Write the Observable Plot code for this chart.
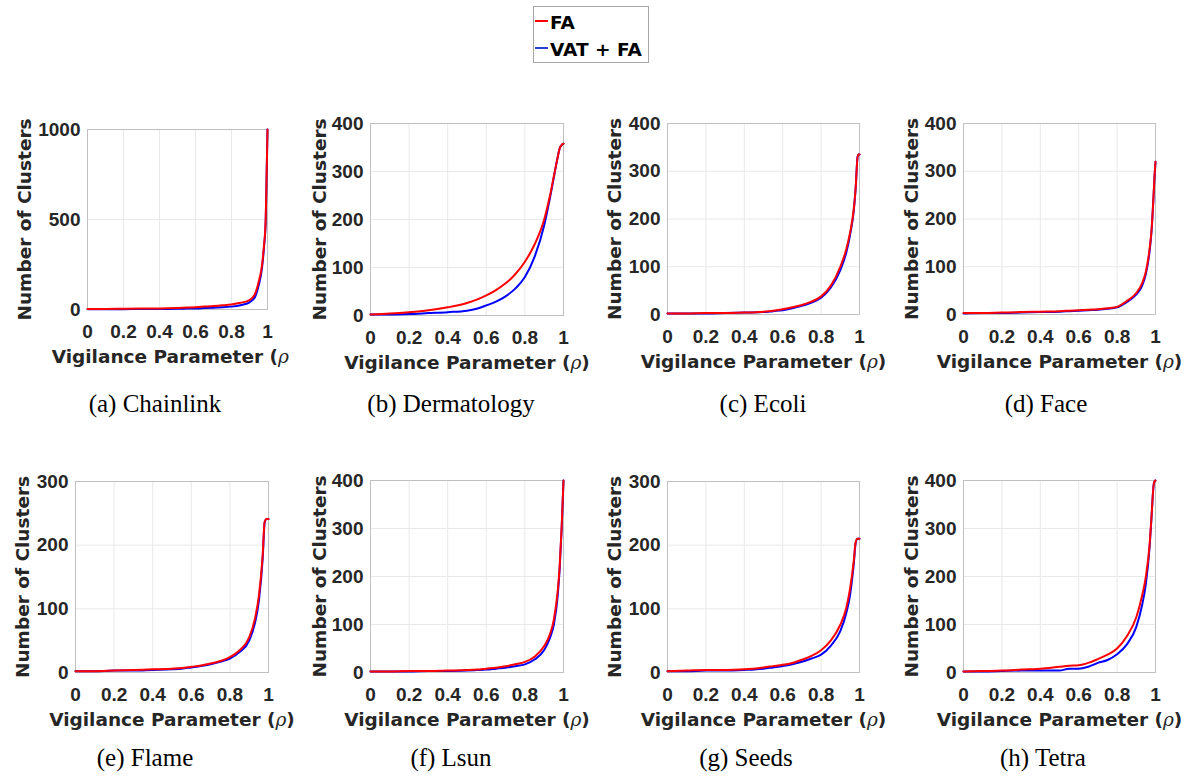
<!DOCTYPE html>
<html>
<head>
<meta charset="utf-8">
<script src="https://cdn.jsdelivr.net/npm/d3@7"></script>
<script src="https://cdn.jsdelivr.net/npm/@observablehq/plot@0.6"></script>
<style>
  html, body { margin: 0; padding: 0; background: #fff; }
  #fig { position: relative; width: 1195px; height: 776px; overflow: hidden; background: #fff; }
  .panel { position: absolute; }
  .panel svg { max-width: none !important; }
  .caption { position: absolute; width: 300px; height: 30px; line-height: 30px; text-align: center;
             font-family: "Liberation Serif", "Times New Roman", serif; font-size: 25px; color: #000; }
  #legend { position: absolute; left: 533px; top: 6px; width: 114px; height: 55px;
            border: 1px solid #a6a6a6; background: #fff; z-index: 2;
            font-family: "DejaVu Sans", sans-serif; font-weight: bold; font-size: 18.5px; color: #000; }
  .item { position: absolute; left: 1px; height: 22px; line-height: 22px; white-space: nowrap; }
  .swatch { display: inline-block; width: 13px; height: 0; border-top: 2px solid; vertical-align: middle; margin-right: 2px; position: relative; top: -3px; }
</style>
</head>
<body>
<div id="fig">
  <div id="legend">
    <div class="item" style="top:5px"><span class="swatch" style="border-color:#ff0000"></span>FA</div>
    <div class="item" style="top:32px"><span class="swatch" style="border-color:#2a3fd0"></span>VAT + FA</div>
  </div>
</div>
<script>
// Vigilance parameter samples shared by every dataset
const rho = [0, 0.1, 0.2, 0.3, 0.4, 0.5, 0.55, 0.6, 0.65, 0.7, 0.75, 0.8, 0.85, 0.9, 0.93, 0.95, 0.97, 0.98, 0.99, 0.995, 1];

// Number of clusters per dataset: plain FA and VAT-ordered FA
const chainlinkFA  = [3, 3, 4, 5, 6, 9, 11, 13, 16, 19, 23, 28, 37, 52, 85, 150, 250, 350, 500, 740, 1000];
const chainlinkVAT = [2, 2, 2, 3, 3, 4, 5, 6, 8, 10, 12, 16, 24, 40, 68, 130, 235, 340, 490, 735, 1000];

const dermatologyFA  = [2, 4, 7, 11, 17, 26, 33, 42, 53, 67, 86, 112, 148, 200, 250, 290, 330, 348, 355, 357, 358];
const dermatologyVAT = [2, 2, 3, 5, 7, 10, 14, 21, 29, 40, 56, 80, 122, 188, 245, 288, 330, 348, 355, 357, 358];

const ecoliFA  = [2, 2, 3, 3, 4, 6, 8, 11, 15, 20, 27, 38, 60, 100, 135, 170, 220, 265, 330, 335, 335];
const ecoliVAT = [2, 2, 2, 3, 4, 5, 7, 9, 13, 18, 25, 35, 56, 93, 128, 165, 217, 264, 330, 335, 335];

const faceFA  = [3, 3, 4, 5, 6, 7, 8, 9, 10, 11, 13, 16, 28, 45, 65, 90, 140, 180, 250, 290, 320];
const faceVAT = [2, 3, 3, 4, 5, 6, 7, 8, 9, 10, 12, 15, 26, 42, 60, 85, 135, 178, 248, 288, 320];

const flameFA  = [2, 2, 3, 4, 5, 6, 7, 9, 11, 14, 18, 24, 35, 55, 85, 120, 185, 237, 241, 241, 241];
const flameVAT = [2, 2, 3, 3, 4, 5, 6, 8, 10, 13, 17, 22, 32, 50, 78, 112, 180, 235, 241, 241, 241];

const lsunFA  = [2, 2, 3, 3, 4, 5, 6, 8, 10, 13, 17, 22, 33, 55, 80, 110, 170, 220, 300, 350, 400];
const lsunVAT = [2, 2, 2, 3, 3, 4, 5, 6, 8, 10, 13, 17, 27, 47, 72, 100, 160, 215, 295, 345, 400];

const seedsFA  = [2, 3, 4, 4, 5, 8, 10, 12, 15, 20, 26, 35, 50, 75, 100, 130, 175, 205, 210, 210, 210];
const seedsVAT = [2, 2, 3, 3, 4, 6, 8, 10, 13, 17, 22, 28, 42, 65, 92, 120, 170, 203, 210, 210, 210];

const tetraFA  = [2, 3, 4, 6, 8, 12, 14, 15, 20, 28, 37, 50, 75, 115, 160, 200, 270, 330, 390, 398, 400];
const tetraVAT = [2, 2, 3, 4, 4, 4, 8, 8, 12, 20, 26, 38, 58, 95, 140, 185, 265, 328, 390, 398, 400];

// Axis ticks and text
const xTicks = [0, 0.2, 0.4, 0.6, 0.8, 1];
const yTicks1000 = [0, 500, 1000];
const yTicks400 = [0, 100, 200, 300, 400];
const yTicks300 = [0, 100, 200, 300];
const xTitle = "Vigilance Parameter (ρ)";
const yTitle = "Number of Clusters";
const seriesNames = ["FA", "VAT + FA"];

const datasets = [
  {caption: "(a) Chainlink",   fa: chainlinkFA,   vat: chainlinkVAT,   ymax: 1000, ticks: yTicks1000},
  {caption: "(b) Dermatology", fa: dermatologyFA, vat: dermatologyVAT, ymax: 400,  ticks: yTicks400},
  {caption: "(c) Ecoli",       fa: ecoliFA,       vat: ecoliVAT,       ymax: 400,  ticks: yTicks400},
  {caption: "(d) Face",        fa: faceFA,        vat: faceVAT,        ymax: 400,  ticks: yTicks400},
  {caption: "(e) Flame",       fa: flameFA,       vat: flameVAT,       ymax: 300,  ticks: yTicks300},
  {caption: "(f) Lsun",        fa: lsunFA,        vat: lsunVAT,        ymax: 400,  ticks: yTicks400},
  {caption: "(g) Seeds",       fa: seedsFA,       vat: seedsVAT,       ymax: 300,  ticks: yTicks300},
  {caption: "(h) Tetra",       fa: tetraFA,       vat: tetraVAT,       ymax: 400,  ticks: yTicks400}
];

// Page layout: plot frame rectangles, caption centres, y-title offsets, clipping of the first panel
const layout = [
  {left: 87,  top: 129, right: 267,  bottom: 309, capX: 155,  capY: 404, yOff: -62, xOff: -3, clip: 297},
  {left: 370, top: 123, right: 563,  bottom: 315, capX: 451,  capY: 404, yOff: -50},
  {left: 667, top: 123, right: 859,  bottom: 314, capX: 763,  capY: 404, yOff: -52},
  {left: 963, top: 123, right: 1155, bottom: 314, capX: 1046, capY: 404, yOff: -51},
  {left: 75,  top: 481, right: 268,  bottom: 672, capX: 145,  capY: 758, yOff: -52},
  {left: 370, top: 480, right: 563,  bottom: 672, capX: 451,  capY: 758, yOff: -50},
  {left: 667, top: 481, right: 859,  bottom: 672, capX: 746,  capY: 758, yOff: -52},
  {left: 963, top: 480, right: 1155, bottom: 672, capX: 1043, capY: 758, yOff: -51}
];

const ML = 80, MR = 45, MT = 15, MB = 60;
const tickFont = "'Liberation Sans', Arial, Helvetica, sans-serif";
const titleFont = "'DejaVu Sans', sans-serif";
const ink = "#262626";
const fig = document.getElementById("fig");

function seriesRows(d) {
  const rows = [];
  rho.forEach((r, i) => rows.push({rho: r, n: d.vat[i], s: seriesNames[1]}));
  rho.forEach((r, i) => rows.push({rho: r, n: d.fa[i], s: seriesNames[0]}));
  return rows;
}

// Render the Greek rho of the axis title in italics; the first panel's title stops after rho
function italicRho(svg, truncate) {
  svg.querySelectorAll("text").forEach(t => {
    if (t.children.length === 0 && t.textContent.includes("ρ")) {
      const parts = t.textContent.split("ρ");
      t.textContent = "";
      parts.forEach((p, i) => {
        if (i > 0) {
          const ts = document.createElementNS("http://www.w3.org/2000/svg", "tspan");
          ts.setAttribute("font-style", "italic");
          ts.setAttribute("font-weight", "normal");
          ts.setAttribute("font-family", "'DejaVu Serif', 'Liberation Serif', serif");
          ts.textContent = "ρ";
          t.appendChild(ts);
        }
        if (p) {
          if (truncate && i > 0) {
            // keep the closing parenthesis in layout but hidden beyond the panel's clip edge
            const tail = document.createElementNS("http://www.w3.org/2000/svg", "tspan");
            tail.setAttribute("fill-opacity", "0");
            tail.textContent = p;
            t.appendChild(tail);
          } else {
            t.appendChild(document.createTextNode(p));
          }
        }
      });
    }
  });
}

datasets.forEach((d, k) => {
  const L = layout[k];
  const fw = L.right - L.left, fh = L.bottom - L.top;
  const W = fw + ML + MR, H = fh + MT + MB;
  const rows = seriesRows(d);
  const chart = Plot.plot({
    width: W,
    height: H,
    marginLeft: ML, marginRight: MR, marginTop: MT, marginBottom: MB,
    style: {background: "transparent", overflow: "visible", maxWidth: "none"},
    x: {domain: [0, 1]},
    y: {domain: [0, d.ymax]},
    color: {domain: seriesNames, range: ["#ff0000", "#0000ff"]},
    marks: [
      Plot.gridX(xTicks, {stroke: "#e9e9e9", strokeOpacity: 1}),
      Plot.gridY(d.ticks, {stroke: "#e9e9e9", strokeOpacity: 1}),
      Plot.frame({stroke: "#bfbfbf"}),
      Plot.line(rows, {x: "rho", y: "n", z: "s", stroke: "s", strokeWidth: 2, curve: "monotone-x"}),
      Plot.axisX(xTicks, {tickSize: 0, tickPadding: 15, label: null, fontSize: 19, fontWeight: "bold",
        fontFamily: tickFont, color: ink, tickFormat: v => String(v)}),
      Plot.axisY(d.ticks, {tickSize: 0, tickPadding: 7, label: null, fontSize: 19, fontWeight: "bold",
        fontFamily: tickFont, color: ink, tickFormat: v => String(v)}),
      Plot.text([xTitle], {text: t => t, frameAnchor: "bottom", textAnchor: "middle", lineAnchor: "middle",
        dx: L.xOff || 0, dy: 48, fontSize: 18.5, fontWeight: "bold", fontFamily: titleFont, fill: ink}),
      Plot.text([yTitle], {text: t => t, frameAnchor: "left", textAnchor: "middle", lineAnchor: "middle",
        rotate: -90, dx: L.yOff, fontSize: 18.5, fontWeight: "bold", fontFamily: titleFont, fill: ink})
    ]
  });
  chart.style.maxWidth = "none";
  chart.setAttribute("width", W);
  chart.setAttribute("height", H);
  italicRho(chart, !!L.clip);

  const holder = document.createElement("div");
  holder.className = "panel";
  const x0 = L.left - ML, y0 = L.top - MT;
  holder.style.top = y0 + "px";
  holder.style.height = H + "px";
  if (L.clip) {
    const vx = Math.max(0, x0);
    holder.style.left = vx + "px";
    holder.style.width = (L.clip - vx) + "px";
    holder.style.overflow = "hidden";
    chart.style.position = "absolute";
    chart.style.left = (x0 - vx) + "px";
    chart.style.top = "0px";
  } else {
    holder.style.left = x0 + "px";
    holder.style.width = W + "px";
  }
  holder.appendChild(chart);
  fig.appendChild(holder);

  const cap = document.createElement("div");
  cap.className = "caption";
  cap.textContent = d.caption;
  cap.style.left = (L.capX - 150) + "px";
  cap.style.top = (L.capY - 15) + "px";
  fig.appendChild(cap);
});
</script>
</body>
</html>
